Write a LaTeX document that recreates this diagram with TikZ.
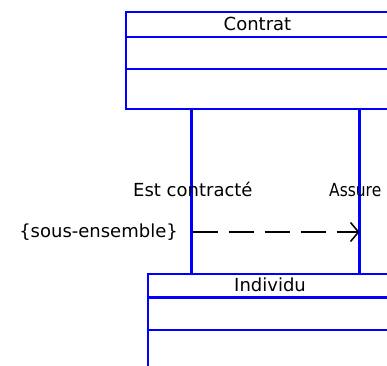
\documentclass[tikz,border=0pt]{standalone}
\usepackage{fontspec}
\usepackage{graphicx}
\setmainfont{DejaVu Sans}
\usetikzlibrary{arrows.meta}
\definecolor{umlblue}{RGB}{0,0,255}
\begin{document}
\begin{tikzpicture}[x=1pt,y=-1pt,
  txt/.style={font=\fontsize{18}{20}\selectfont, inner sep=0pt, text=black},
  classbox/.style={draw=umlblue, line width=2.4pt, fill=white, anchor=north west,
                   minimum width=268pt, inner sep=0pt},
  umlline/.style={draw=umlblue, line width=2.4pt},
  dep/.style={draw=black, line width=1.7pt, dash pattern=on 25pt off 11pt,
              -{Straight Barb[length=8pt,width=19pt,line width=1.5pt]}}]
\useasboundingbox (0,0) rectangle (387,365);
\clip (0,0) rectangle (387,365);
% classes
\node[classbox, minimum height=96.5pt] (Contrat) at (125,11) {};
\node[classbox, minimum height=120pt] (Individu) at (147,273) {};
\draw[umlline] ([yshift=-25.7pt]Contrat.north west) -- ([yshift=-25.7pt]Contrat.north east);
\draw[umlline] ([yshift=-58pt]Contrat.north west) -- ([yshift=-58pt]Contrat.north east);
\draw[umlline] ([yshift=-24.3pt]Individu.north west) -- ([yshift=-24.3pt]Individu.north east);
\draw[umlline] ([yshift=-57pt]Individu.north west) -- ([yshift=-57pt]Individu.north east);
\node[txt, anchor=base] (tContrat) at (257.5,30) {Contrat};
\node[txt, anchor=base] (tIndividu) at (270,291.7) {Individu};
% associations
\coordinate (l1) at (191.5,0);
\coordinate (l2) at (359.5,0);
\draw[umlline] (l1 |- Contrat.south) -- (l1 |- Individu.north);
\draw[umlline] (l2 |- Contrat.south) -- (l2 |- Individu.north);
\node[txt, anchor=base west] (estc) at (133,196) {Est contracté};
\node[txt, anchor=base west] (assure) at (329,196) {\scalebox{0.86}[1]{Assure}};
% dependency
\coordinate (d1) at (192.5,232);
\coordinate (d2) at (359.5,232);
\draw[dep] (d1) -- (d2);
\node[txt, anchor=base east] (sub) at (178,237) {\{sous-ensemble\}};
\end{tikzpicture}
\end{document}
